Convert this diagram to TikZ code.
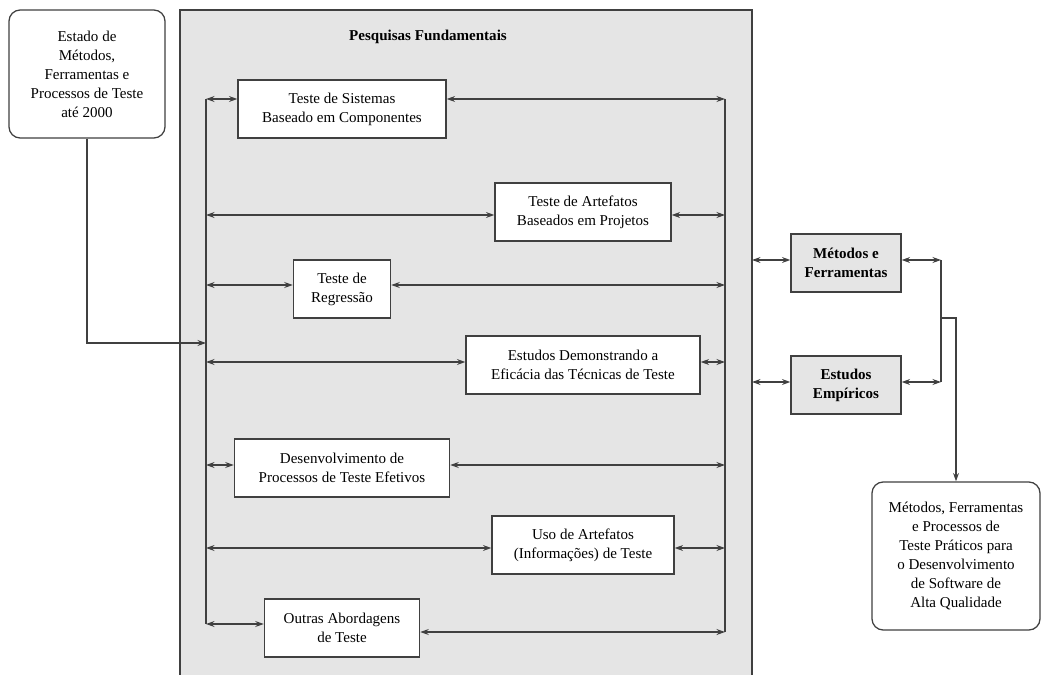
\documentclass[tikz,border=0pt]{standalone}
\usepackage{fontspec}
\setmainfont{Liberation Serif}
\usetikzlibrary{arrows.meta,positioning}

\begin{document}
\begin{tikzpicture}[x=0.025cm,y=-0.025cm,>={Stealth[length=6pt,width=4.2pt,inset=2pt]},
  line width=0.9pt,font=\fontsize{10.7}{13.5}\selectfont,
  tbox/.style={rectangle,draw=black!75,fill=white,align=center,minimum height=1.45cm,inner sep=2pt},
  gbox/.style={tbox,fill=black!10,font=\fontsize{10.7}{13.5}\selectfont\bfseries},
  rbox/.style={rectangle,rounded corners=8pt,draw=black!75,fill=white,align=center,inner sep=2pt},
  link/.style={<->,draw=black!75},
  wire/.style={draw=black!75}]

  \useasboundingbox (0,0) rectangle (1043,675);

  % research area
  \draw[draw=black!75,fill=black!10] (180,10) rectangle (752,700);
  \node[font=\fontsize{10.7}{13.5}\selectfont\bfseries] (pesq) at (428,37) {Pesquisas Fundamentais};

  \node[rbox,minimum width=3.9cm,minimum height=3.2cm] (estado) at (87,74)
    {Estado de\\Métodos,\\Ferramentas e\\Processos de Teste\\até 2000};

  \node[tbox,minimum width=5.2cm] (sist) at (342,109) {Teste de Sistemas\\Baseado em Componentes};
  \node[tbox,minimum width=4.4cm] (artef) at (583,212) {Teste de Artefatos\\Baseados em Projetos};
  \node[tbox,minimum width=2.43cm] (regr) at (342,289) {Teste de\\Regressão};
  \node[tbox,minimum width=5.85cm] (estud) at (583,365) {Estudos Demonstrando a\\Eficácia das Técnicas de Teste};
  \node[tbox,minimum width=5.38cm] (desenv) at (342,468) {Desenvolvimento de\\Processos de Teste Efetivos};
  \node[tbox,minimum width=4.55cm] (uso) at (583,545) {Uso de Artefatos\\(Informações) de Teste};
  \node[tbox,minimum width=3.88cm] (outras) at (342,628) {Outras Abordagens\\de Teste};

  % results
  \node[gbox,minimum width=2.75cm] (metodos) at (846,263) {Métodos e\\Ferramentas};
  \node[gbox,minimum width=2.75cm] (empir) at (846,385) {Estudos\\Empíricos};
  \node[rbox,minimum width=4.2cm,minimum height=3.7cm] (pratico) at (956,556)
    {Métodos, Ferramentas\\e Processos de\\Teste Práticos para\\o Desenvolvimento\\de Software de\\Alta Qualidade};

  % buses
  \foreach \n/\yl/\yr in {sist/99/99,artef/215/215,regr/285/285,estud/362/362,
                          desenv/465/465,uso/548/548,outras/624/632} {
    \coordinate (l\n) at (206,\yl);
    \coordinate (r\n) at (725,\yr);
    \draw[link] (l\n) -- (l\n -| \n.west);
    \draw[link] (\n.east |- r\n) -- (r\n);
  }
  \draw[wire] (lsist) -- (loutras);
  \draw[wire] (rsist) -- (routras);

  \coordinate (lin) at (206,343);
  \draw[wire,->] (estado.south) |- (lin);

  \coordinate (mout) at (752,260);
  \coordinate (mj) at (941,260);
  \coordinate (eout) at (752,382);
  \coordinate (ej) at (941,382);
  \draw[link] (mout) -- (mout -| metodos.west);
  \draw[link] (metodos.east |- mj) -- (mj);
  \draw[link] (eout) -- (eout -| empir.west);
  \draw[link] (empir.east |- ej) -- (ej);
  \draw[wire] (mj) -- (ej);
  \coordinate (jn) at (941,318);
  \draw[wire,->] (jn) -| (pratico.north);

\end{tikzpicture}
\end{document}
